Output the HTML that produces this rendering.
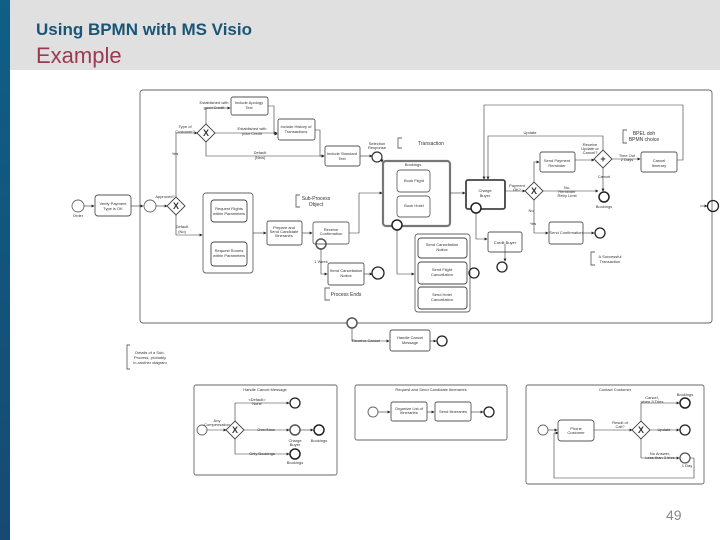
<!DOCTYPE html>
<html><head><meta charset="utf-8"><style>
html,body{margin:0;padding:0;background:#fff;}
#p{position:relative;width:720px;height:540px;overflow:hidden;font-family:"Liberation Sans",sans-serif;}
#bar{position:absolute;left:0;top:0;width:10px;height:540px;background:linear-gradient(#0f5f86,#164a72);}
#hd{position:absolute;left:10px;top:0;width:710px;height:70px;background:#e0e0e0;}
#t1{position:absolute;left:36px;top:20px;font-size:17px;font-weight:bold;color:#1b5576;}
#t2{position:absolute;left:36px;top:43px;font-size:22px;color:#9a3a50;}
#pg{position:absolute;left:666px;top:507px;font-size:14px;color:#888;}
svg{position:absolute;left:0;top:0;}
text{font-family:"Liberation Sans",sans-serif;font-size:4px;fill:#333;text-anchor:middle;}
</style></head><body><div id="p">
<div id="bar"></div><div id="hd"></div>
<div id="t1">Using BPMN with MS Visio</div>
<div id="t2">Example</div>
<div id="pg">49</div>
<svg width="720" height="540" viewBox="0 0 720 540">
<defs><marker id="a" markerWidth="5" markerHeight="5" refX="4" refY="2.5" orient="auto"><path d="M0,0L5,2.5L0,5z" fill="#222"/></marker></defs>
<g fill="none" stroke="#666" stroke-width="0.9">
<rect x="140" y="90" width="572" height="233" rx="3"/>
<circle cx="78" cy="206" r="6"/>
<rect x="95" y="195" width="36" height="21" rx="3" stroke="#555"/>
<circle cx="150" cy="206" r="6"/>
<path d="M176,197l9,9l-9,9l-9,-9z" fill="#fff" stroke="#444"/>
<path d="M206,124l9,9l-9,9l-9,-9z" fill="#fff" stroke="#444"/>
<rect x="231" y="97" width="37" height="18" rx="2" stroke="#555"/>
<rect x="278" y="119" width="37" height="21" rx="2" stroke="#555"/>
<rect x="325" y="146" width="35" height="20" rx="2" stroke="#555"/>
<circle cx="377" cy="157" r="5" stroke="#333" stroke-width="1.2"/>
<rect x="383" y="161" width="67" height="65" rx="3" stroke="#777" stroke-width="2.2"/>
<rect x="397" y="170" width="33" height="22" rx="3"/>
<rect x="397" y="196" width="33" height="21" rx="3"/>
<circle cx="397" cy="225" r="5" fill="#fff" stroke="#222" stroke-width="1.5"/>
<rect x="203" y="193" width="50" height="80" rx="3"/>
<rect x="211" y="200" width="36" height="22" rx="3" stroke="#444"/>
<rect x="211" y="242" width="36" height="24" rx="3" stroke="#444"/>
<rect x="267" y="221" width="35" height="24" rx="2" stroke="#555"/>
<rect x="313" y="222" width="36" height="22" rx="2"/>
<circle cx="321" cy="244" r="5" stroke="#555" stroke-width="1.5"/>
<rect x="328" y="263" width="36" height="22" rx="2" stroke="#555"/>
<circle cx="378" cy="273" r="6" stroke="#222" stroke-width="1.3"/>
<path d="M330,288h-5v12h5"/>
<path d="M300,195h-4v12h4"/>
<path d="M402,138h-4v10h4"/>
<rect x="415" y="234" width="55" height="78" rx="3"/>
<rect x="418" y="238" width="49" height="20" rx="3" stroke="#444"/>
<rect x="418" y="262" width="49" height="22" rx="3" stroke="#444"/>
<rect x="418" y="287" width="49" height="22" rx="3" stroke="#444"/>
<circle cx="474" cy="273" r="5" stroke="#222" stroke-width="1.3"/>
<rect x="466" y="180" width="39" height="29" rx="2" stroke="#444" stroke-width="1.8"/>
<circle cx="476" cy="208" r="5" fill="#fff" stroke="#222" stroke-width="1.5"/>
<rect x="488" y="232" width="34" height="20" rx="2" stroke="#555"/>
<circle cx="502" cy="267" r="5" stroke="#222" stroke-width="1.3"/>
<path d="M534,182l9,9l-9,9l-9,-9z" fill="#fff" stroke="#444"/>
<rect x="540" y="152" width="35" height="20" rx="2" stroke="#555"/>
<path d="M603,150l9,9l-9,9l-9,-9z" fill="#fff" stroke="#444"/>
<rect x="641" y="152" width="36" height="20" rx="2" stroke="#555"/>
<circle cx="604" cy="197" r="5" stroke="#222" stroke-width="1.5"/>
<rect x="549" y="222" width="34" height="22" rx="2" stroke="#555"/>
<circle cx="600" cy="233" r="5" stroke="#222" stroke-width="1.3"/>
<path d="M595,252h-4v13h4"/>
<path d="M627,130h-4v13h4"/>
<circle cx="713" cy="206" r="5.5" stroke="#222" stroke-width="1.3"/>
<circle cx="352" cy="323" r="5" fill="#fff" stroke="#555" stroke-width="1.5"/>
<rect x="390" y="330" width="40" height="21" rx="2" stroke="#555"/>
<circle cx="442" cy="341" r="5" stroke="#222" stroke-width="1.3"/>
<path d="M130,345h-3v24h3"/>
<rect x="194" y="385" width="143" height="90" rx="2" stroke="#666"/>
<circle cx="202" cy="430" r="5"/>
<path d="M235,421l9,9l-9,9l-9,-9z" fill="#fff" stroke="#444"/>
<circle cx="295" cy="403" r="5" stroke="#222" stroke-width="1.3"/>
<circle cx="295" cy="430" r="5" stroke="#555" stroke-width="1.5"/>
<circle cx="319" cy="430" r="5" stroke="#222" stroke-width="1.5"/>
<circle cx="295" cy="454" r="5" stroke="#222" stroke-width="1.5"/>
<rect x="355" y="385" width="152" height="55" rx="2" stroke="#666"/>
<circle cx="373" cy="412" r="5"/>
<rect x="391" y="402" width="36" height="19" rx="2" stroke="#555"/>
<rect x="435" y="402" width="36" height="19" rx="2" stroke="#555"/>
<circle cx="489" cy="412" r="5" stroke="#222" stroke-width="1.3"/>
<rect x="526" y="385" width="178" height="99" rx="2" stroke="#666"/>
<circle cx="543" cy="430" r="5"/>
<rect x="558" y="420" width="36" height="21" rx="3" stroke="#555"/>
<path d="M641,421l9,9l-9,9l-9,-9z" fill="#fff" stroke="#444"/>
<circle cx="685" cy="403" r="5" stroke="#222" stroke-width="1.5"/>
<circle cx="685" cy="430" r="5" stroke="#222" stroke-width="1.3"/>
<circle cx="685" cy="458" r="5" stroke="#555" stroke-width="1.3"/>
</g>
<g fill="none" stroke="#333" stroke-width="0.6" marker-end="url(#a)">
<path d="M84,206h10"/><path d="M131,206h12"/><path d="M156,206h11"/>
<path d="M176,197v-64h21"/><path d="M206,124v-16h24"/><path d="M215,133h62"/>
<path d="M206,142v14h118"/><path d="M268,106h6v28h3"/><path d="M315,130h5v26h4"/>
<path d="M360,156h12"/><path d="M382,157v5"/>
<path d="M176,215v20h26"/><path d="M253,233h13"/><path d="M302,233h10"/>
<path d="M349,233h10v-40h23"/><path d="M321,249v25h6"/><path d="M364,274h8"/>
<path d="M397,230v44h17"/><path d="M450,193h15"/>
<path d="M476,213v26h11"/>
<path d="M505,191h20"/><path d="M534,182v-20h5"/><path d="M575,160h19"/>
<path d="M612,159h28"/><path d="M677,160h6v-55h-199v74"/>
<path d="M603,150v-14h-115v43"/><path d="M543,191h55"/><path d="M603,168v23"/>
<path d="M534,200v33h14"/><path d="M583,233h11"/><path d="M505,244v17"/>
<path d="M700,206h7"/>
<path d="M352,328v13h37"/><path d="M430,341h6"/>
<path d="M207,430h19"/><path d="M235,421v-18h54"/><path d="M244,430h45"/><path d="M300,430h13"/><path d="M235,439v15h54"/>
<path d="M378,412h12"/><path d="M427,412h7"/><path d="M471,412h12"/>
<path d="M548,430h9"/><path d="M594,430h38"/><path d="M641,421v-18h38"/><path d="M650,430h29"/><path d="M641,439v19h38"/><path d="M690,458h4v20h-140v-45h4"/>
</g>
<text x="176" y="209" style="font-size:9px;font-weight:bold">X</text>
<text x="206" y="136" style="font-size:9px;font-weight:bold">X</text>
<text x="534" y="194" style="font-size:9px;font-weight:bold">X</text>
<text x="235" y="433" style="font-size:9px;font-weight:bold">X</text>
<text x="641" y="433" style="font-size:9px;font-weight:bold">X</text>
<text x="603" y="162" style="font-size:9px;font-weight:bold">+</text>
<text x="113" y="205">Verify Payment</text><text x="113" y="210">Type is OK</text>
<text x="78" y="217">Order</text>
<text x="249" y="104">Include Apology</text><text x="249" y="109">Text</text>
<text x="296" y="128">Include History of</text><text x="296" y="133">Transactions</text>
<text x="342" y="155">Include Standard</text><text x="342" y="160">Text</text>
<text x="214" y="104">Established with</text><text x="214" y="109">good Credit</text>
<text x="252" y="130">Established with</text><text x="252" y="135">poor Credit</text>
<text x="185" y="128">Type of</text><text x="185" y="133">Customer?</text>
<text x="260" y="154">Default</text><text x="260" y="159">(New)</text>
<text x="175" y="155">Yes</text><text x="165" y="198">Approved?</text>
<text x="182" y="228">Default</text><text x="182" y="233">(No)</text>
<text x="377" y="145">Selection</text><text x="377" y="149">Response</text>
<text x="418" y="145" style="font-size:5px;text-anchor:start">Transaction</text>
<text x="413" y="166">Bookings</text>
<text x="414" y="182">Book Flight</text><text x="414" y="207">Book Hotel</text>
<text x="229" y="210">Request Flights</text><text x="229" y="215">within Parameters</text>
<text x="229" y="252">Request Rooms</text><text x="229" y="257">within Parameters</text>
<text x="284" y="229">Prepare and</text><text x="284" y="233">Send Candidate</text><text x="284" y="237">Itineraries</text>
<text x="316" y="200" style="font-size:5px">Sub-Process</text><text x="316" y="206" style="font-size:5px">Object</text>
<text x="331" y="231">Receive</text><text x="331" y="235">Confirmation</text>
<text x="321" y="263">1 Week</text>
<text x="346" y="272">Send Cancellation</text><text x="346" y="277">Notice</text>
<text x="346" y="296" style="font-size:5px">Process Ends</text>
<text x="442" y="246">Send Cancellation</text><text x="442" y="251">Notice</text>
<text x="442" y="271">Send Flight</text><text x="442" y="276">Cancellation</text>
<text x="442" y="296">Send Hotel</text><text x="442" y="301">Cancellation</text>
<text x="485" y="192">Charge</text><text x="485" y="197">Buyer</text>
<text x="505" y="244">Credit Buyer</text>
<text x="517" y="187">Payment</text><text x="517" y="191">OK?</text>
<text x="557" y="162">Send Payment</text><text x="557" y="167">Reminder</text>
<text x="659" y="162">Cancel</text><text x="659" y="167">Itinerary</text>
<text x="590" y="146">Receive</text><text x="590" y="150">Update or</text><text x="590" y="154">Cancel?</text>
<text x="627" y="157">Time Out</text><text x="627" y="161">2 Days</text>
<text x="644" y="135" style="font-size:5px">BPEL doh</text><text x="644" y="141" style="font-size:5px">BPMN choice</text>
<text x="567" y="189">No,</text><text x="567" y="193">Reminder</text><text x="567" y="197">Retry Limit</text>
<text x="604" y="208">Bookings</text><text x="604" y="178">Cancel</text>
<text x="531" y="212">No</text><text x="533" y="225">Yes</text>
<text x="530" y="134">Update</text>
<text x="566" y="234">Send Confirmation</text>
<text x="610" y="258">A Successful</text><text x="610" y="263">Transaction</text>
<text x="366" y="342">Receive Cancel</text>
<text x="410" y="339">Handle Cancel</text><text x="410" y="344">Message</text>
<text x="150" y="354">Details of a Sub-</text><text x="150" y="359">Process, probably</text><text x="150" y="364">in another diagram</text>
<text x="265" y="391">Handle Cancel Message</text>
<text x="257" y="401">&lt;Default&gt;</text><text x="257" y="405">None</text>
<text x="217" y="422">Any</text><text x="217" y="426">Compensation</text>
<text x="266" y="431">Over/Now</text><text x="262" y="455">Only Bookings</text>
<text x="295" y="442">Charge</text><text x="295" y="446">Buyer</text>
<text x="319" y="442">Bookings</text><text x="295" y="464">Bookings</text>
<text x="431" y="391">Request and Send Candidate Itineraries</text>
<text x="409" y="410">Organize List of</text><text x="409" y="414">Itineraries</text>
<text x="453" y="413">Send Itineraries</text>
<text x="615" y="391">Contact Customer</text>
<text x="576" y="430">Phone</text><text x="576" y="434">Customer</text>
<text x="620" y="424">Result of</text><text x="620" y="428">Call?</text>
<text x="652" y="399">Cancel,</text><text x="652" y="403">when 3 Tries</text>
<text x="664" y="431">Update</text><text x="660" y="455">No Answer,</text><text x="660" y="459">Less than 3 tries</text>
<text x="685" y="396">Bookings</text><text x="687" y="467">1 Day</text>
</svg>
</div></body></html>
